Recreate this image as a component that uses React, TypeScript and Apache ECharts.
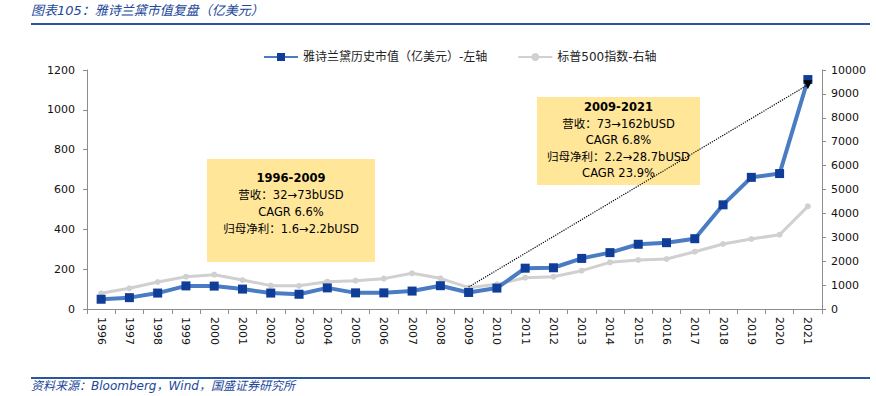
import React, { useEffect, useRef } from "react";
import * as echarts from "echarts";

const years = ["1996","1997","1998","1999","2000","2001","2002","2003","2004","2005","2006","2007","2008","2009","2010","2011","2012","2013","2014","2015","2016","2017","2018","2019","2020","2021"];
const esteeCap = [49, 57, 80, 116, 115, 100, 80, 74, 106, 81, 81, 90, 117, 83, 105, 205, 207, 254, 283, 325, 333, 353, 523, 661, 680, 1152];
const sp500 = [656, 865, 1130, 1352, 1437, 1213, 977, 970, 1144, 1186, 1270, 1492, 1283, 893, 1032, 1311, 1353, 1604, 1953, 2050, 2092, 2398, 2720, 2929, 3108, 4296];
const leftTicks = { min: 0, max: 1200, interval: 200 };
const rightTicks = { min: 0, max: 10000, interval: 1000 };
const arrowFrom = { year: "2009", value: 920 };
const arrowTo = { year: "2021", value: 9380 };
const box1Lines = ["1996-2009", "营收：32→73bUSD", "CAGR 6.6%", "归母净利：1.6→2.2bUSD"];
const box2Lines = ["2009-2021", "营收：73→162bUSD", "CAGR 6.8%", "归母净利：2.2→28.7bUSD", "CAGR 23.9%"];
const seriesNames = ["雅诗兰黛历史市值（亿美元）-左轴", "标普500指数-右轴"];

const FONT = "'DejaVu Sans', 'Noto Sans CJK SC', sans-serif";
const CJK = "'DejaVu Sans', 'Noto Sans CJK SC', sans-serif";
const BLUE_TXT = "#22479A";

function boxGraphic(x: number, y: number, w: number, h: number, lines: string[], firstY: number, step: number) {
  const children: any[] = [
    { type: "rect", shape: { x: 0, y: 0, width: w, height: h }, style: { fill: "#FFE699" } },
  ];
  lines.forEach((t, i) => {
    children.push({
      type: "text",
      x: w / 2,
      y: firstY + i * step,
      style: {
        text: t,
        fill: "#000",
        font: `${i === 0 ? "bold " : ""}11.5px ${CJK}`,
        align: "center",
        verticalAlign: "middle",
      },
    });
  });
  return { type: "group", x, y, children };
}

export default function App() {
  const ref = useRef<HTMLDivElement>(null);
  useEffect(() => {
    if (!ref.current) return;
    document.body.style.margin = "0";
    const chart = echarts.init(ref.current, null, { renderer: "svg" });
    chart.setOption({
      animation: false,
      backgroundColor: "#fff",
      textStyle: { fontFamily: FONT },
      grid: { left: 87, right: 54, top: 70, bottom: 87, containLabel: false },
      legend: {
        left: 258,
        top: 46,
        itemGap: 30,
        itemWidth: 34,
        itemHeight: 10,
        textStyle: { fontSize: 12, color: "#222", fontFamily: CJK },
        data: seriesNames,
      },
      xAxis: {
        type: "category",
        data: years,
        boundaryGap: true,
        axisLine: { lineStyle: { color: "#8C8C8C", width: 1 } },
        axisTick: { show: true, length: 5, lineStyle: { color: "#8C8C8C" } },
        axisLabel: { rotate: -90, color: "#111", fontSize: 11, margin: 8, interval: 0 },
      },
      yAxis: [
        {
          type: "value",
          ...leftTicks,
          splitLine: { show: false },
          axisLine: { show: true, lineStyle: { color: "#8C8C8C" } },
          axisTick: { show: true, length: 4, lineStyle: { color: "#8C8C8C" } },
          axisLabel: { color: "#111", fontSize: 11, margin: 12, formatter: (v: number) => String(v) },
        },
        {
          type: "value",
          ...rightTicks,
          splitLine: { show: false },
          axisLine: { show: true, lineStyle: { color: "#8C8C8C" } },
          axisTick: { show: true, length: 4, lineStyle: { color: "#8C8C8C" } },
          axisLabel: { color: "#111", fontSize: 11, margin: 9, formatter: (v: number) => String(v) },
        },
      ],
      series: [
        {
          name: seriesNames[1],
          type: "line",
          yAxisIndex: 1,
          data: sp500,
          symbol: "circle",
          symbolSize: 6,
          lineStyle: { color: "#D0D0D0", width: 3 },
          itemStyle: { color: "#D0D0D0" },
          z: 2,
          markLine: {
            silent: true,
            symbol: ["none", "triangle"],
            symbolSize: [9, 9],
            symbolRotate: 180,
            label: { show: false },
            lineStyle: { type: "dotted", color: "#000", width: 1.2 },
            data: [[
              { coord: [arrowFrom.year, arrowFrom.value], symbol: "none" },
              { coord: [arrowTo.year, arrowTo.value], symbol: "triangle" },
            ]],
          },
        },
        {
          name: seriesNames[0],
          type: "line",
          yAxisIndex: 0,
          data: esteeCap,
          symbol: "rect",
          symbolSize: 9,
          lineStyle: { color: "#4A7CC4", width: 4 },
          itemStyle: { color: "#0F3D98" },
          z: 3,
        },
      ],
      graphic: [
        {
          type: "text",
          left: 31,
          top: 4,
          style: { text: "图表105：雅诗兰黛市值复盘（亿美元）", fill: BLUE_TXT, font: `italic 13px ${CJK}` },
        },
        { type: "rect", shape: { x: 31, y: 23, width: 839, height: 2 }, style: { fill: "#2A56A0" } },
        { type: "rect", shape: { x: 31, y: 377, width: 839, height: 2 }, style: { fill: "#2A56A0" } },
        {
          type: "text",
          left: 31,
          top: 380,
          style: { text: "资料来源：Bloomberg，Wind，国盛证券研究所", fill: BLUE_TXT, font: `italic 12px ${CJK}` },
        },
        boxGraphic(207, 159, 168, 103, box1Lines, 19, 17),
        boxGraphic(537, 97, 163, 88, box2Lines, 10, 16.5),
      ],
    });
    return () => chart.dispose();
  }, []);
  return <div ref={ref} style={{ width: 876, height: 396 }} />;
}
